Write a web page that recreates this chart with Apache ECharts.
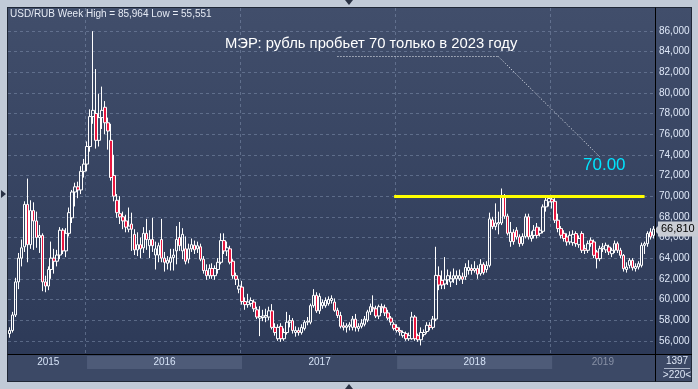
<!DOCTYPE html>
<html><head><meta charset="utf-8">
<script src="https://cdn.jsdelivr.net/npm/echarts@6/dist/echarts.min.js"></script>
<style>
html,body{margin:0;padding:0;width:698px;height:389px;overflow:hidden;background:#c1cad7;}
#panel{position:absolute;left:7px;top:7px;width:685px;height:375px;border:1px solid #1f2736;box-sizing:border-box;
 background:linear-gradient(to bottom,#414e6b 0px,#2d3a58 346px,#3c4966 346px,#3c4966 100%);}
#hline{position:absolute;left:655px;top:354px;width:37px;height:1px;background:#000;}
#chart{position:absolute;left:0;top:0;width:698px;height:389px;}
.tri{position:absolute;width:0;height:0;}
</style></head><body>
<div id="panel"></div><div id="hline"></div>
<div class="tri" style="left:345px;top:0;border-left:4px solid transparent;border-right:4px solid transparent;border-top:5px solid #2a3244;"></div>
<div class="tri" style="left:1px;top:190px;border-top:4px solid transparent;border-bottom:4px solid transparent;border-left:5px solid #2a3244;"></div>
<div class="tri" style="left:345px;top:384px;border-left:4px solid transparent;border-right:4px solid transparent;border-bottom:5px solid #2a3244;"></div>
<div id="chart"></div>
<script>
// ---- data: weekly USD/RUB candles, rows are [open, close, low, high] ----
const years = ['2015', '2016', '2017', '2018', '2019'];
const firstIsoWeek = [28, 1, 1, 1, 1];

const ohlc2015 = [
 [56.70,57.00,56.30,57.30],[57.00,58.50,56.80,58.80],[58.50,61.70,58.30,62.10],[61.70,64.00,61.00,64.50],
 [64.00,65.00,63.20,65.80],[65.10,69.20,64.60,69.50],[69.20,65.30,63.60,71.70],[65.30,68.60,64.90,69.60],
 [68.60,67.60,64.80,69.40],[67.60,66.00,65.00,68.50],[66.00,66.20,64.50,67.20],[66.20,61.70,60.80,66.40],
 [61.70,61.30,60.70,62.30],[61.30,62.90,60.90,63.20],[62.90,64.00,62.00,65.60],[64.00,63.70,62.50,64.90],
 [63.70,64.30,63.20,64.80],[64.30,66.70,63.90,67.00],[66.70,64.70,64.40,66.90],[64.70,66.40,64.10,66.90],
 [66.40,68.40,66.10,68.90],[67.90,70.40,67.40,70.60],[70.40,70.90,69.00,71.30],[70.90,70.60,69.80,71.40],
 [70.60,72.40,70.20,72.90],[72.40,73.10,71.80,73.60]
];
const ohlc2016 = [
 [73.10,74.80,72.40,75.30],[74.80,77.70,74.30,78.40],[77.70,78.30,77.00,85.964],[78.00,75.40,74.60,82.30],
 [75.40,77.60,74.80,79.90],[77.60,78.30,76.50,80.60],[78.60,77.10,76.00,79.20],[77.10,76.30,74.50,77.60],
 [75.40,71.80,71.50,77.00],[72.00,70.00,69.50,74.00],[69.60,68.40,67.90,70.20],[68.30,68.00,67.30,70.00],
 [68.00,67.60,66.80,68.50],[67.60,67.00,66.50,68.20],[66.80,67.10,66.50,68.90],[67.30,66.80,64.70,68.40],
 [66.30,64.80,64.30,66.80],[64.80,65.30,64.20,66.50],[65.30,64.90,64.00,66.00],[65.00,66.40,64.50,67.00],
 [66.40,65.80,64.80,67.80],[65.20,65.80,64.00,66.70],[65.80,65.20,64.60,67.90],[64.30,64.90,62.90,65.60],
 [64.30,65.20,63.60,65.50],[65.80,64.00,63.60,67.80],[64.00,63.60,62.70,64.60],[63.50,63.80,62.90,64.20],
 [63.60,64.05,62.80,64.90],[64.05,64.30,62.80,64.90],[64.70,65.80,63.40,67.10],[66.00,65.20,64.70,67.50],
 [64.70,66.30,63.90,66.90],[64.90,63.70,63.40,66.10],[63.90,64.90,63.50,65.40],[64.90,65.30,64.60,65.90],
 [65.25,64.80,64.40,65.70],[64.90,65.20,64.50,65.60],[65.10,63.90,63.70,65.40],[63.90,62.80,62.50,64.20],
 [62.80,62.30,61.90,63.40],[62.30,63.00,62.00,63.40],[63.00,62.30,62.00,63.50],[62.30,63.00,61.90,63.30],
 [62.90,63.60,62.50,64.00],[63.60,65.70,63.40,66.40],[65.70,64.70,64.40,66.40],[64.70,65.00,64.20,65.60],
 [64.90,63.60,63.40,65.20],[63.70,62.30,62.00,63.90],[62.30,61.95,61.40,62.60],[61.00,61.30,60.60,62.00]
];
const ohlc2017 = [
 [61.20,59.80,59.50,61.80],[59.80,59.50,59.00,60.20],[59.50,59.75,59.20,60.55],[59.60,59.90,59.30,60.20],
 [59.75,59.10,58.80,60.00],[59.00,58.30,58.10,59.30],[58.20,58.35,56.45,59.35],[58.25,58.40,57.90,59.00],
 [58.30,58.45,57.80,59.10],[58.30,58.90,58.00,59.30],[58.90,57.30,57.10,59.55],[57.30,56.80,56.50,57.70],
 [56.20,57.30,56.00,57.60],[57.40,56.20,55.90,57.70],[56.20,56.80,56.00,57.20],[56.80,57.80,56.60,58.80],
 [57.80,57.95,57.30,58.50],[57.95,57.00,56.70,58.20],[56.80,57.00,56.40,57.40],[57.00,56.80,56.50,57.30],
 [56.80,57.30,56.60,57.60],[57.20,57.80,57.00,58.00],[57.80,57.90,57.50,58.30],[57.80,59.40,57.60,59.60],
 [59.40,60.40,59.20,61.00],[60.40,58.90,58.70,60.70],[58.90,60.30,58.60,60.60],[59.40,59.70,59.10,60.00],
 [59.40,59.90,59.20,60.20],[59.60,60.00,59.40,60.30],[59.90,60.10,59.60,60.40],[59.75,58.95,58.80,60.10],
 [58.95,58.45,58.20,59.20],[58.45,57.40,57.20,58.80],[57.45,57.30,57.00,57.80],[57.30,57.45,56.80,57.70],
 [57.40,57.55,57.00,57.80],[57.30,58.10,57.00,58.40],[58.10,57.30,56.90,58.60],[57.20,57.40,56.90,57.70],
 [57.40,57.70,57.20,58.10],[57.60,58.10,57.40,58.40],[58.00,58.80,57.80,59.00],[58.80,59.30,58.50,59.60],
 [59.20,59.10,58.80,60.40],[59.10,58.40,58.20,59.40],[58.40,59.30,58.10,59.50],[59.30,59.20,58.70,59.60],
 [59.20,58.70,58.40,59.50],[58.70,58.20,58.00,59.00],[58.20,57.80,57.50,58.40],[57.60,57.20,57.00,57.80]
];
const ohlc2018 = [
 [57.30,57.00,56.80,57.60],[57.00,56.85,56.50,57.30],[56.50,56.80,56.30,57.00],[56.70,56.20,56.00,56.90],
 [56.20,56.50,56.00,56.80],[56.20,58.30,56.10,58.80],[58.30,56.20,56.00,58.50],[56.50,56.10,55.90,56.70],
 [56.10,56.80,55.551,57.30],[56.60,56.80,56.40,57.10],[56.90,57.50,56.70,57.80],[57.50,57.30,57.00,57.80],
 [57.30,58.10,57.10,58.40],[58.10,62.33,57.90,65.10],[62.30,61.40,60.90,63.20],[61.85,61.40,61.00,62.80],
 [61.50,61.90,61.00,64.10],[61.90,62.30,61.40,62.90],[61.70,62.00,61.20,62.70],[62.00,62.30,61.60,63.00],
 [62.00,62.30,61.40,62.80],[62.00,62.30,61.80,62.90],[62.20,61.95,61.50,62.60],[62.20,63.10,61.90,63.50],
 [62.80,63.10,62.40,63.80],[63.00,62.80,62.40,63.40],[62.80,63.00,62.60,63.70],[63.00,62.45,62.00,63.30],
 [62.50,63.40,62.30,63.90],[63.40,62.60,62.40,63.60],[62.90,63.30,62.60,63.70],[63.30,67.80,63.10,68.40],
 [67.70,67.05,66.80,68.00],[67.05,67.40,66.70,69.30],[67.30,67.45,66.30,68.50],[67.40,69.90,67.20,70.74],
 [69.90,68.06,67.80,70.20],[68.06,66.40,66.20,68.30],[65.60,66.50,65.10,67.50],[66.50,65.60,65.30,66.80],
 [66.70,66.05,65.80,67.00],[66.05,65.40,65.10,66.30],[65.40,66.10,65.20,66.40],[66.10,68.00,65.90,68.30],
 [68.00,66.05,65.80,68.30],[65.90,66.20,65.60,66.60],[66.20,66.70,65.90,67.20],[67.00,66.20,65.90,67.40],
 [66.40,66.70,66.10,67.00],[66.60,68.96,66.40,69.20],[68.96,69.60,68.50,69.90],[69.45,69.77,69.00,69.95]
];
const ohlc2019 = [
 [69.70,69.45,68.80,70.00],[69.50,67.67,67.40,69.80],[67.67,66.86,66.50,68.30],[66.86,66.21,65.90,67.10],
 [66.40,65.90,65.60,66.70],[66.05,65.57,65.20,66.40],[65.57,66.21,65.30,66.60],[65.50,66.30,65.20,66.70],
 [66.38,65.40,65.10,66.60],[65.30,65.90,65.00,66.20],[66.38,64.76,64.50,66.60],[64.92,64.76,64.40,65.30],
 [64.76,65.40,64.50,65.70],[65.73,65.40,65.10,66.00],[65.57,64.27,64.00,65.80],[64.60,63.95,63.00,64.80],
 [63.95,64.92,63.70,65.20],[64.92,65.08,64.60,65.45],[64.80,65.24,64.50,65.50],[65.08,64.60,64.30,65.30],
 [64.43,64.76,64.10,65.00],[64.76,65.40,64.50,65.70],[65.40,64.76,64.50,65.60],[64.76,64.27,64.00,65.00],
 [64.27,62.98,62.70,64.40],[62.90,63.14,62.60,63.60],[63.30,63.79,63.00,64.00],[63.79,63.07,62.80,64.00],
 [63.00,63.20,62.70,63.50],[63.14,63.46,62.90,63.70],[63.30,65.24,63.10,65.50],[65.24,65.40,64.40,65.60],
 [65.40,66.38,65.10,66.60],[66.54,66.05,65.80,66.90],[66.21,66.81,65.90,67.10]
];

// y axis ticks
const yMin = 56, yMax = 86, yStep = 2;

// annotations: [year, isoWeek, value]
const resistanceValue = 70;
const resistanceFrom = ['2017', 52];
const resistanceTo = ['2019', 32];
const calloutPath = [['2017', 33, 83.5], ['2018', 35, 83.5], ['2019', 17, 73.8]];
const calloutText = 'МЭР: рубль пробьет 70 только в 2023 году';
const resistanceText = '70.00';
const footerTop = '1397';
const footerBottom = '>220<';

// ---- build categories ----
const perYear = [ohlc2015, ohlc2016, ohlc2017, ohlc2018, ohlc2019];
const categories = [], candles = [], yearStartIdx = [];
perYear.forEach((rows, yi) => {
  yearStartIdx.push(categories.length);
  rows.forEach((r, w) => {
    categories.push(years[yi] + '-W' + String(firstIsoWeek[yi] + w).padStart(2, '0'));
    candles.push(r);
  });
});
const cat = (y, w) => y + '-W' + String(w).padStart(2, '0');
const fmt = v => v.toFixed(3).replace('.', ',');
const hi = Math.max(...candles.map(r => r[3]));
const lo = Math.min(...candles.map(r => r[2]));
const lastClose = candles[candles.length - 1][1];

const FONT = "'Liberation Sans', Arial, sans-serif";
const gridDash = { color: 'rgba(125,142,172,0.55)', width: 1, type: [3, 3] };
const dotStyle = { color: '#eef1f6', width: 1, type: [1, 2] };

const bands = years.map((y, i) => {
  const s = yearStartIdx[i];
  const e = i + 1 < years.length ? yearStartIdx[i + 1] : categories.length - 1;
  return [
    { name: y, xAxis: categories[s], yAxis: 0.444,
      itemStyle: { color: i % 2 === 1 ? '#4e5b78' : 'rgba(0,0,0,0)' },
      label: { color: i === 4 ? '#8891a6' : '#d6e3f7' } },
    { xAxis: categories[e], yAxis: 0.926 }
  ];
});

const chart = echarts.init(document.getElementById('chart'), null, { renderer: 'canvas' });
chart.setOption({
  animation: false,
  backgroundColor: 'transparent',
  grid: [
    { left: 8, right: 43, top: 30.8, bottom: 48.2 },
    { left: 8, right: 43, top: 8, bottom: 35 },
    { left: 8, right: 43, top: 354, bottom: 8 }
  ],
  xAxis: [
    { type: 'category', gridIndex: 0, data: categories, show: false, boundaryGap: true },
    { type: 'category', gridIndex: 1, data: categories, boundaryGap: true,
      axisLine: { show: true, lineStyle: { color: '#000', width: 1 } },
      axisTick: { show: false }, axisLabel: { show: false },
      splitLine: { show: true, interval: (idx) => idx > 0 && yearStartIdx.includes(idx), lineStyle: gridDash } },
    { type: 'category', gridIndex: 2, data: categories, show: false, boundaryGap: true }
  ],
  yAxis: [
    { type: 'value', gridIndex: 0, position: 'right', min: yMin, max: yMax, interval: yStep,
      axisLine: { show: false }, axisTick: { show: false },
      axisLabel: { show: true, margin: 4, color: '#dfe8f8', fontSize: 10, fontFamily: FONT, formatter: v => fmt(v) },
      splitLine: { show: true, lineStyle: gridDash } },
    { type: 'value', gridIndex: 1, position: 'right', min: 0, max: 1,
      axisLine: { show: true, lineStyle: { color: '#000', width: 1 } },
      axisTick: { show: false }, axisLabel: { show: false }, splitLine: { show: false } },
    { type: 'value', gridIndex: 2, position: 'right', min: 0, max: 1,
      axisLine: { show: true, lineStyle: { color: '#000', width: 1 } },
      axisTick: { show: false }, axisLabel: { show: false }, splitLine: { show: false } }
  ],
  series: [
    {
      type: 'candlestick', xAxisIndex: 0, yAxisIndex: 0, data: candles, barWidth: 3, clip: false,
      itemStyle: { color: 'rgba(0,0,0,0)', color0: '#e8163f', borderColor: '#ffffff', borderColor0: '#ffffff', borderWidth: 1 },
      markLine: {
        silent: true, symbol: 'none', animation: false,
        data: [
          [ { coord: [cat(...resistanceFrom), resistanceValue], lineStyle: { color: '#ffff00', width: 3, type: 'solid' }, label: { show: false } },
            { coord: [cat(...resistanceTo), resistanceValue] } ],
          [ { coord: [cat(calloutPath[0][0], calloutPath[0][1]), calloutPath[0][2]], lineStyle: dotStyle, label: { show: false } },
            { coord: [cat(calloutPath[1][0], calloutPath[1][1]), calloutPath[1][2]] } ],
          [ { coord: [cat(calloutPath[1][0], calloutPath[1][1]), calloutPath[1][2]], lineStyle: dotStyle, label: { show: false } },
            { coord: [cat(calloutPath[2][0], calloutPath[2][1]), calloutPath[2][2]] } ]
        ]
      }
    },
    {
      type: 'line', xAxisIndex: 0, yAxisIndex: 0, data: [], silent: true,
      markLine: {
        silent: true, symbol: 'none', animation: false,
        data: [
          { yAxis: lastClose, lineStyle: { color: 'rgba(0,0,0,0)', width: 1 },
            label: { show: true, position: 'end', distance: 3, formatter: () => fmt(lastClose),
                     backgroundColor: '#c8ccd4', color: '#000', padding: [2, 3, 2, 3], fontSize: 11, fontFamily: FONT } }
        ]
      }
    },
    {
      type: 'line', xAxisIndex: 2, yAxisIndex: 2, data: [], silent: true,
      markArea: { silent: true, label: { show: true, position: 'inside', fontSize: 10, fontFamily: FONT }, data: bands }
    }
  ],
  graphic: [
    { type: 'text', x: 10, y: 14.7, style: { text: 'USD/RUB Week High = ' + fmt(hi) + ' Low = ' + fmt(lo), fill: '#e6ebf5', font: '10px ' + FONT, verticalAlign: 'middle' } },
    { type: 'text', x: 225, y: 43.5, style: { text: calloutText, fill: '#ffffff', font: '14.8px ' + FONT, verticalAlign: 'middle' } },
    { type: 'text', x: 583, y: 165.5, style: { text: resistanceText, fill: '#00e5ff', font: '17px ' + FONT, verticalAlign: 'middle' } },
    { type: 'polygon', shape: { points: [[654, 230], [658, 226], [658, 234]] }, style: { fill: '#c8ccd4' } },
    { type: 'text', x: 677, y: 361, style: { text: footerTop, fill: '#dde6f5', font: '10px ' + FONT, align: 'center', verticalAlign: 'middle' } },
    { type: 'line', shape: { x1: 664, y1: 368.5, x2: 690, y2: 368.5 }, style: { stroke: '#aab4c8', lineWidth: 1 } },
    { type: 'text', x: 677, y: 375, style: { text: footerBottom, fill: '#dde6f5', font: '10px ' + FONT, align: 'center', verticalAlign: 'middle' } }
  ]
});
</script>
</body></html>
